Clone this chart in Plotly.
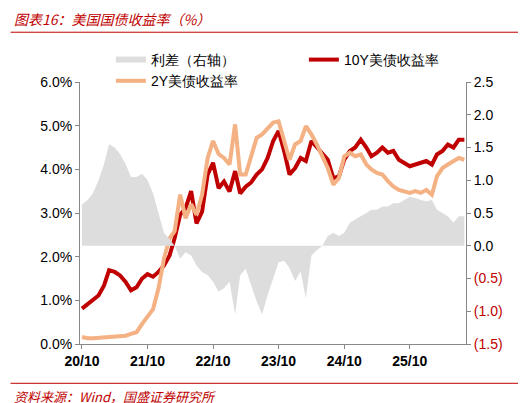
import pandas as pd
import plotly.graph_objects as go

# monthly readings, 2020/10 .. 2026/08
months = pd.date_range("2020-10-01", periods=71, freq="MS")

y10 = [0.81, 0.92, 1.00, 1.11, 1.34, 1.69, 1.65, 1.57, 1.42, 1.23, 1.30, 1.50,
       1.60, 1.54, 1.65, 1.80, 2.03, 2.42, 2.96, 3.11, 3.50, 2.76, 3.03, 3.88,
       4.15, 3.57, 3.72, 3.49, 3.96, 3.45, 3.60, 3.70, 3.88, 4.00, 4.26, 4.65,
       4.88, 4.42, 3.88, 4.03, 4.26, 4.19, 4.65, 4.50, 4.34, 4.22, 3.80, 3.84,
       4.22, 4.42, 4.50, 4.68, 4.50, 4.30, 4.38, 4.50, 4.38, 4.42, 4.22, 4.15,
       4.07, 4.11, 4.15, 4.19, 4.11, 4.34, 4.42, 4.57, 4.50, 4.68, 4.68]

y2 = [0.16, 0.13, 0.13, 0.14, 0.16, 0.16, 0.16, 0.19, 0.19, 0.23, 0.27, 0.46,
      0.61, 0.80, 1.27, 1.96, 2.42, 2.58, 3.42, 2.88, 3.20, 2.96, 3.42, 4.26,
      4.65, 4.35, 4.26, 4.11, 5.03, 3.88, 3.88, 4.26, 4.72, 4.80, 4.95, 5.07,
      5.10, 4.65, 4.22, 4.57, 4.65, 4.99, 4.80, 4.57, 4.30, 4.03, 3.65, 3.80,
      4.30, 4.38, 4.30, 4.34, 4.11, 4.00, 3.92, 3.88, 3.73, 3.61, 3.53, 3.50,
      3.46, 3.50, 3.46, 3.53, 3.42, 3.84, 4.03, 4.11, 4.19, 4.26, 4.22]

spread = [0.63, 0.70, 0.80, 1.00, 1.25, 1.55, 1.50, 1.40, 1.25, 1.05, 1.05, 1.10,
          1.00, 0.80, 0.50, 0.20, 0.10, 0.00, -0.20, -0.10, -0.15, -0.30, -0.40, -0.45,
          -0.55, -0.70, -0.65, -0.55, -1.05, -0.45, -0.35, -0.60, -0.85, -1.05, -0.75, -0.50,
          -0.25, -0.23, -0.34, -0.54, -0.39, -0.80, -0.15, -0.07, 0.00, 0.15, 0.20, 0.15,
          0.20, 0.35, 0.40, 0.45, 0.50, 0.55, 0.55, 0.60, 0.60, 0.65, 0.65, 0.70,
          0.75, 0.73, 0.70, 0.68, 0.70, 0.55, 0.50, 0.45, 0.35, 0.45, 0.45]

x_ticks = ["2020-10-01", "2021-10-01", "2022-10-01", "2023-10-01", "2024-10-01", "2025-10-01"]
x_labels = ["20/10", "21/10", "22/10", "23/10", "24/10", "25/10"]
r_ticks = [-1.5, -1.0, -0.5, 0.0, 0.5, 1.0, 1.5, 2.0, 2.5]
r_labels = ["(1.5)", "(1.0)", "(0.5)", "0.0", "0.5", "1.0", "1.5", "2.0", "2.5"]

RED = "#C00000"
font = "Liberation Sans, Arial, sans-serif"

fig = go.Figure()
fig.add_trace(go.Scatter(x=months, y=spread, name="利差（右轴）", yaxis="y2",
                         fill="tozeroy", mode="none", fillcolor="#DDDDDD"))
fig.add_trace(go.Scatter(x=months, y=y10, name="10Y美债收益率", mode="lines",
                         line=dict(color=RED, width=4)))
fig.add_trace(go.Scatter(x=months, y=y2, name="2Y美债收益率", mode="lines",
                         line=dict(color="#F4B183", width=4)))

r_text = [f"<span style='color:{RED}'>{t}</span>" if v < 0 else t
          for v, t in zip(r_ticks, r_labels)]

fig.update_layout(
    width=526, height=403,
    margin=dict(l=72, r=68, t=74, b=67, autoexpand=False),
    plot_bgcolor="white", paper_bgcolor="white",
    font=dict(family=font, size=14, color="black"),
    showlegend=True,
    legend=dict(orientation="h", x=0.08, xanchor="left",
                y=1 - 36 / 403, yref="container", yanchor="top",
                entrywidth=0.5, entrywidthmode="fraction",
                font=dict(size=14), traceorder="normal", bgcolor="rgba(0,0,0,0)"),
    xaxis=dict(range=["2020-09-20", "2026-08-10"], tickvals=x_ticks, ticktext=x_labels,
               showgrid=False, showline=True, linecolor="#888", ticks="outside",
               ticklen=4, tickcolor="#888",
               tickfont=dict(family=font, size=14, weight="bold")),
    yaxis=dict(range=[0, 6], showgrid=False, zeroline=False,
               showline=True, linecolor="#888", ticks="outside", ticklen=4, tickcolor="#888",
               tickvals=[0, 1, 2, 3, 4, 5, 6],
               ticktext=["0.0%", "1.0%", "2.0%", "3.0%", "4.0%", "5.0%", "6.0%"]),
    yaxis2=dict(range=[-1.5, 2.5], overlaying="y", side="right", showgrid=False,
                zeroline=False, showline=True, linecolor="#888", ticks="outside",
                ticklen=4, tickcolor="#888", tickvals=r_ticks, ticktext=r_text),
)

# title, rules and source note (paper units: plot area is 262px tall)
fig.add_annotation(text="<i>图表16：美国国债收益率（%）</i>", xref="paper", yref="paper",
                   x=-0.175, y=1.24, xanchor="left", yanchor="middle", showarrow=False,
                   font=dict(color=RED, size=14, family="Noto Sans CJK SC"))
fig.add_shape(type="line", xref="paper", yref="paper", x0=-0.18, x1=1.17, y0=1.19,
              y1=1.19, line=dict(color=RED, width=1))
fig.add_shape(type="line", xref="paper", yref="paper", x0=-0.18, x1=1.17, y0=-0.15,
              y1=-0.15, line=dict(color=RED, width=1))
fig.add_annotation(text="<i>资料来源：Wind，国盛证券研究所</i>", xref="paper", yref="paper",
                   x=-0.175, y=-0.2, xanchor="left", yanchor="middle", showarrow=False,
                   font=dict(color=RED, size=13, family="Noto Sans CJK SC"))

fig.write_html("out.html")
